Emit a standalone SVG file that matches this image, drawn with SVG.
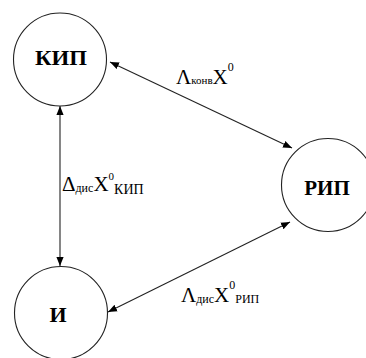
<svg xmlns="http://www.w3.org/2000/svg" width="366" height="358" viewBox="0 0 366 358">
<defs>
<marker id="ah" viewBox="0 0 10 10" refX="10" refY="5" markerWidth="9" markerHeight="9" markerUnits="userSpaceOnUse" orient="auto-start-reverse">
<path d="M0,1 L10,5 L0,9 Z" fill="#000"/>
</marker>
</defs>
<style>
.node{fill:#fff;stroke:#222;stroke-width:1.1}
.nl{font-family:"Liberation Serif",serif;font-weight:bold;fill:#000;text-anchor:middle}
.edge{stroke:#222;stroke-width:1.1;fill:none;marker-start:url(#ah);marker-end:url(#ah)}
.lbl{font-family:"Liberation Serif",serif;fill:#000}
</style>
<rect width="366" height="358" fill="#fff"/>
<g id="connectors">
<line class="edge" x1="110" y1="62" x2="292" y2="148"/>
<line class="edge" x1="60" y1="106" x2="60" y2="266"/>
<line class="edge" x1="108" y1="312" x2="290" y2="222"/>
</g>
<g id="labels">
<text class="lbl" x="176" y="84" font-size="21">Λ<tspan font-size="11" dy="0">конв</tspan><tspan font-size="21">X</tspan><tspan font-size="12" dy="-13">0</tspan></text>
<text class="lbl" x="62" y="191" font-size="21">Δ<tspan font-size="12" dy="1">дис</tspan><tspan font-size="21" dy="-1">X</tspan><tspan font-size="11" dy="-11">0</tspan><tspan font-size="14" dy="14">КИП</tspan></text>
<text class="lbl" x="181" y="302" font-size="21">Λ<tspan font-size="12" dy="1">дис</tspan><tspan font-size="21" dy="-1">X</tspan><tspan font-size="12" dy="-13">0</tspan><tspan font-size="12" dy="14">РИП</tspan></text>
</g>
<g id="kip">
<circle class="node" cx="60" cy="59.5" r="46.5"/>
<text class="nl" x="61" y="65" font-size="20" textLength="52" lengthAdjust="spacingAndGlyphs">КИП</text>
</g>
<g id="rip">
<circle class="node" cx="328" cy="185" r="46.5"/>
<text class="nl" x="327" y="195" font-size="21">РИП</text>
</g>
<g id="i">
<circle class="node" cx="61" cy="313" r="46.5"/>
<text class="nl" x="58" y="322" font-size="22">И</text>
</g>
</svg>
